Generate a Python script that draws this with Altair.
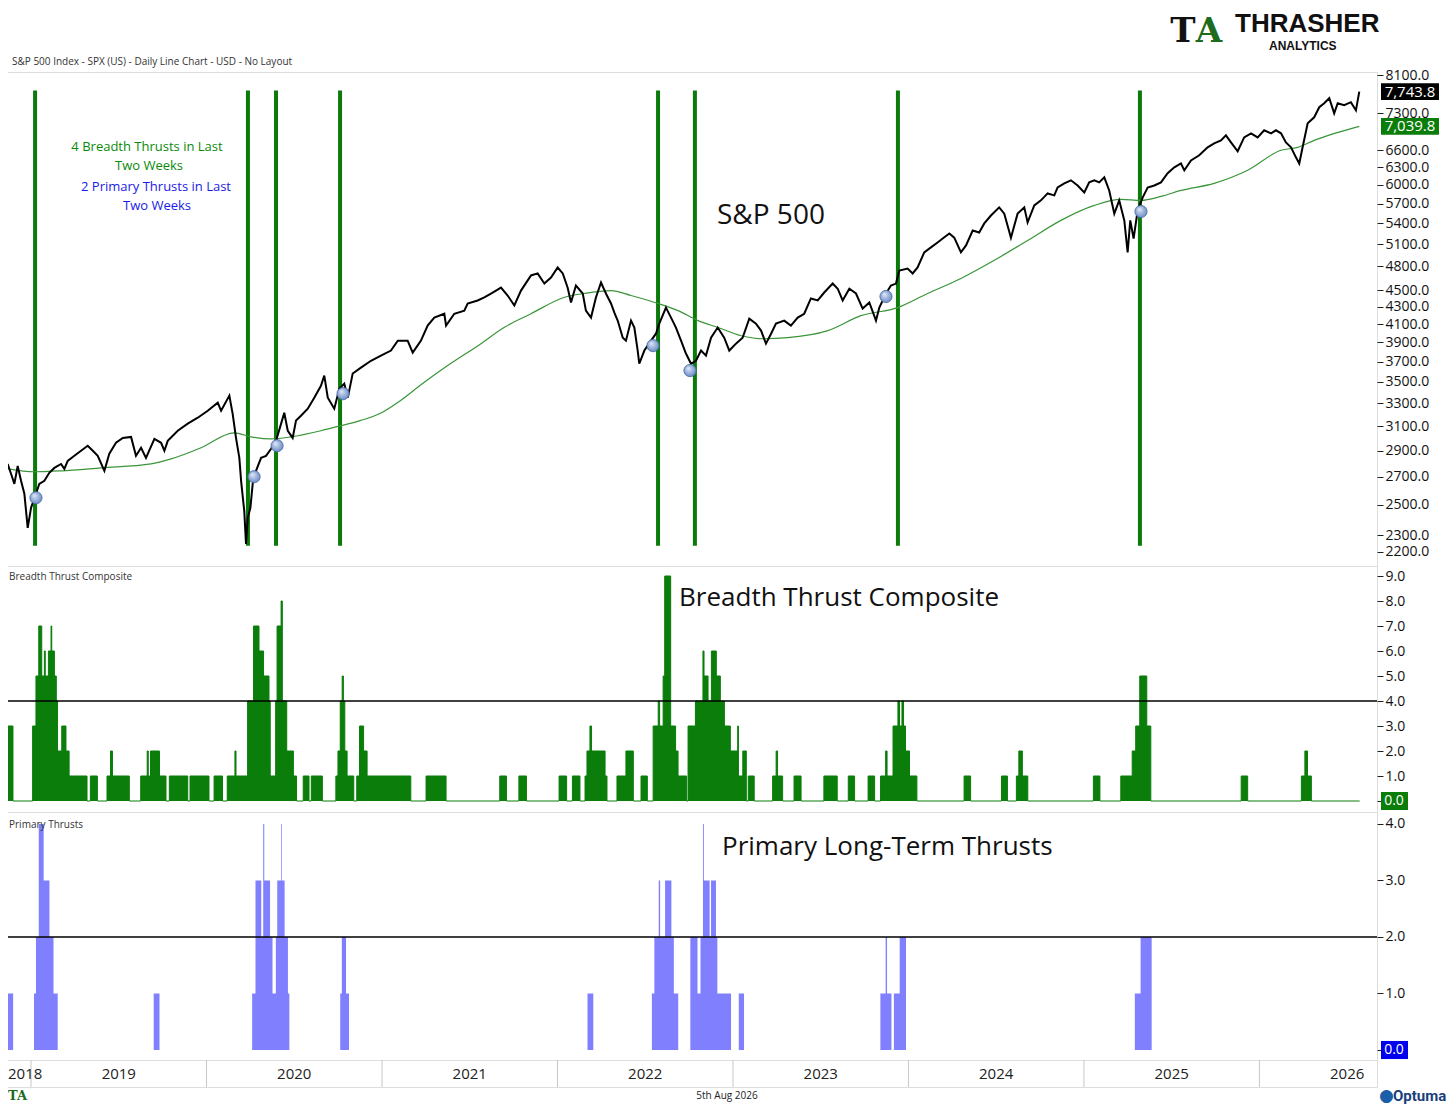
import altair as alt
import pandas as pd

# ---------------- data ----------------
SPX_YEAR = [
    2018.867, 2018.886, 2018.905, 2018.924, 2018.943, 2018.962, 2018.981, 2019.000, 2019.028, 2019.047,
    2019.076, 2019.104, 2019.133, 2019.171, 2019.190, 2019.209, 2019.247, 2019.285, 2019.323, 2019.352,
    2019.380, 2019.418, 2019.446, 2019.484, 2019.523, 2019.570, 2019.598, 2019.627, 2019.655, 2019.703,
    2019.741, 2019.760, 2019.779, 2019.836, 2019.893, 2019.950, 2020.007, 2020.064, 2020.083, 2020.130,
    2020.149, 2020.168, 2020.187, 2020.197, 2020.215, 2020.225, 2020.235, 2020.250, 2020.263, 2020.282,
    2020.311, 2020.339, 2020.368, 2020.396, 2020.425, 2020.443, 2020.463, 2020.491, 2020.510, 2020.538,
    2020.577, 2020.614, 2020.652, 2020.671, 2020.691, 2020.728, 2020.757, 2020.785, 2020.805, 2020.833,
    2020.880, 2020.937, 2020.994, 2021.051, 2021.090, 2021.146, 2021.175, 2021.222, 2021.260, 2021.298,
    2021.355, 2021.365, 2021.412, 2021.469, 2021.488, 2021.545, 2021.583, 2021.621, 2021.678, 2021.716,
    2021.754, 2021.792, 2021.849, 2021.887, 2021.925, 2021.963, 2022.001, 2022.030, 2022.058, 2022.077,
    2022.105, 2022.144, 2022.162, 2022.191, 2022.219, 2022.248, 2022.276, 2022.305, 2022.324, 2022.343,
    2022.372, 2022.390, 2022.419, 2022.438, 2022.457, 2022.466, 2022.495, 2022.533, 2022.561, 2022.580,
    2022.618, 2022.647, 2022.675, 2022.704, 2022.732, 2022.761, 2022.789, 2022.818, 2022.846, 2022.875,
    2022.913, 2022.950, 2022.979, 2023.017, 2023.055, 2023.093, 2023.131, 2023.160, 2023.188, 2023.217,
    2023.245, 2023.292, 2023.330, 2023.369, 2023.406, 2023.444, 2023.483, 2023.520, 2023.568, 2023.597,
    2023.625, 2023.663, 2023.701, 2023.739, 2023.777, 2023.815, 2023.834, 2023.872, 2023.900, 2023.929,
    2023.948, 2023.995, 2024.024, 2024.052, 2024.090, 2024.128, 2024.166, 2024.195, 2024.233, 2024.261,
    2024.299, 2024.328, 2024.366, 2024.403, 2024.432, 2024.470, 2024.517, 2024.546, 2024.584, 2024.622,
    2024.660, 2024.679, 2024.717, 2024.755, 2024.793, 2024.831, 2024.850, 2024.888, 2024.926, 2024.964,
    2025.002, 2025.030, 2025.059, 2025.087, 2025.116, 2025.144, 2025.173, 2025.201, 2025.230, 2025.249,
    2025.264, 2025.283, 2025.306, 2025.335, 2025.363, 2025.401, 2025.439, 2025.477, 2025.515, 2025.553,
    2025.572, 2025.610, 2025.657, 2025.705, 2025.742, 2025.781, 2025.809, 2025.838, 2025.876, 2025.913,
    2025.952, 2025.990, 2026.027, 2026.066, 2026.094, 2026.123, 2026.151, 2026.180, 2026.208, 2026.227,
    2026.246, 2026.275, 2026.312, 2026.341, 2026.369, 2026.398, 2026.426, 2026.446, 2026.483, 2026.521,
    2026.550, 2026.569,
]
SPX_CLOSE = [
    2796, 2722, 2648, 2781, 2670, 2577, 2348, 2480, 2577, 2648,
    2670, 2729, 2766, 2796, 2759, 2820, 2859, 2899, 2939, 2899,
    2859, 2744, 2875, 2963, 3002, 3011, 2859, 2923, 2843, 2994,
    2963, 2899, 2978, 3062, 3122, 3173, 3234, 3307, 3234, 3371,
    3207, 3003, 2843, 2670, 2459, 2247, 2413, 2480, 2648, 2744,
    2843, 2859, 2915, 2978, 3122, 3216, 3062, 3003, 3148, 3190,
    3252, 3352, 3463, 3561, 3352, 3252, 3434, 3483, 3352, 3581,
    3639, 3708, 3761, 3813, 3918, 3918, 3792, 3918, 4083, 4173,
    4217, 4083, 4217, 4253, 4337, 4373, 4409, 4457, 4529, 4433,
    4313, 4493, 4683, 4709, 4580, 4657, 4786, 4709, 4529, 4349,
    4555, 4457, 4253, 4173, 4409, 4593, 4457, 4337, 4229, 4139,
    3949, 3918, 4139, 4061, 3813, 3678, 3813, 3918, 3993, 4105,
    4289, 4173, 4061, 3918, 3782, 3678, 3708, 3813, 3761, 3949,
    4061, 3949, 3813, 3886, 3949, 4161, 4105, 4027, 3886, 3993,
    4105, 4139, 4083, 4173, 4217, 4397, 4373, 4469, 4580, 4516,
    4373, 4516, 4457, 4277, 4349, 4139, 4289, 4457, 4555, 4580,
    4747, 4773, 4709, 4786, 4988, 5056, 5125, 5180, 5252, 5193,
    4988, 5084, 5296, 5267, 5399, 5517, 5641, 5546, 5193, 5546,
    5641, 5414, 5672, 5751, 5861, 5830, 5957, 6024, 6075, 5990,
    5877, 6041, 6075, 6041, 6125, 5909, 5546, 5751, 5444, 4988,
    5444, 5180, 5593, 5798, 5957, 5990, 6041, 6193, 6294, 6361,
    6243, 6414, 6505, 6649, 6721, 6776, 6870, 6739, 6577, 6831,
    6908, 6831, 6966, 6908, 6966, 6908, 6739, 6649, 6469, 6361,
    6649, 7102, 7218, 7419, 7502, 7605, 7295, 7502, 7460, 7523,
    7357, 7743.8,
]
MA200_YEAR = [
    2018.867, 2019.017, 2019.171, 2019.399, 2019.684, 2019.798, 2019.969, 2020.157, 2020.254, 2020.368,
    2020.481, 2020.652, 2020.766, 2020.880, 2020.994, 2021.100, 2021.220, 2021.374, 2021.564, 2021.695,
    2021.849, 2022.037, 2022.151, 2022.305, 2022.419, 2022.573, 2022.687, 2022.801, 2022.915, 2023.046,
    2023.177, 2023.444, 2023.540, 2023.729, 2023.939, 2024.109, 2024.299, 2024.487, 2024.679, 2024.869,
    2025.059, 2025.211, 2025.325, 2025.439, 2025.553, 2025.742, 2025.933, 2026.123, 2026.218, 2026.312,
    2026.569,
]
MA200 = [
    2759, 2737, 2744, 2766, 2796, 2835, 2923, 3045, 3011, 2994,
    3011, 3062, 3105, 3150, 3215, 3320, 3470, 3660, 3886, 4061,
    4217, 4409, 4457, 4493, 4433, 4337, 4253, 4139, 4061, 3971,
    3938, 3982, 4027, 4195, 4289, 4457, 4645, 4878, 5152, 5444,
    5672, 5767, 5751, 5814, 5909, 6024, 6243, 6595, 6649, 6776,
    7039.8,
]
SIGNAL_YEAR = [2019.028, 2020.271, 2020.402, 2020.778, 2022.544, 2022.755, 2023.872, 2025.325]
SIGNAL_PRICE = [2549, 2700, 2939, 3389, 3865, 3610, 4421, 5578]
THRUST_YEAR = [2019.023, 2020.236, 2020.396, 2020.761, 2022.573, 2022.783, 2023.940, 2025.319]
THRUST_TOP = 7767
THRUST_BOTTOM = 2235

BREADTH_YEAR = [
    2018.858, 2018.897, 2019.009, 2019.028, 2019.044, 2019.061, 2019.076, 2019.081, 2019.099, 2019.114,
    2019.118, 2019.133, 2019.144, 2019.151, 2019.175, 2019.199, 2019.217, 2019.319, 2019.338, 2019.378,
    2019.433, 2019.453, 2019.464, 2019.560, 2019.625, 2019.662, 2019.668, 2019.681, 2019.732, 2019.769,
    2019.788, 2019.893, 2019.906, 2020.014, 2020.043, 2020.091, 2020.118, 2020.162, 2020.168, 2020.234,
    2020.268, 2020.299, 2020.325, 2020.356, 2020.363, 2020.394, 2020.402, 2020.425, 2020.432, 2020.457,
    2020.495, 2020.513, 2020.551, 2020.584, 2020.597, 2020.660, 2020.737, 2020.749, 2020.762, 2020.773,
    2020.780, 2020.788, 2020.801, 2020.839, 2020.856, 2020.872, 2020.895, 2020.915, 2021.164, 2021.251,
    2021.365, 2021.671, 2021.709, 2021.780, 2021.823, 2022.009, 2022.052, 2022.085, 2022.128, 2022.157,
    2022.168, 2022.185, 2022.194, 2022.271, 2022.282, 2022.339, 2022.390, 2022.432, 2022.476, 2022.512,
    2022.545, 2022.574, 2022.582, 2022.602, 2022.611, 2022.645, 2022.673, 2022.687, 2022.736, 2022.744,
    2022.786, 2022.829, 2022.835, 2022.858, 2022.877, 2022.905, 2022.928, 2022.951, 2022.985, 2023.027,
    2023.031, 2023.056, 2023.076, 2023.087, 2023.121, 2023.226, 2023.246, 2023.254, 2023.283, 2023.348,
    2023.388, 2023.518, 2023.594, 2023.657, 2023.693, 2023.770, 2023.807, 2023.841, 2023.870, 2023.878,
    2023.912, 2023.940, 2023.949, 2023.963, 2023.972, 2023.983, 2024.006, 2024.048, 2024.317, 2024.354,
    2024.530, 2024.564, 2024.615, 2024.629, 2024.649, 2024.680, 2025.054, 2025.091, 2025.210, 2025.275,
    2025.295, 2025.318, 2025.358, 2025.381, 2025.896, 2025.933, 2026.239, 2026.259, 2026.274, 2026.296,
    2026.571,
]
BREADTH = [
    3, 0, 3, 5, 7, 5, 6, 5, 6, 7,
    6, 5, 4, 2, 3, 2, 1, 0, 1, 0,
    1, 2, 1, 0, 1, 2, 1, 2, 1, 0,
    1, 0, 1, 0, 1, 0, 1, 2, 1, 4,
    7, 6, 5, 4, 1, 4, 7, 8, 4, 2,
    1, 0, 1, 0, 1, 0, 1, 2, 4, 5,
    4, 2, 1, 0, 1, 3, 2, 1, 0, 1,
    0, 1, 0, 1, 0, 1, 0, 1, 0, 1,
    2, 3, 2, 1, 0, 1, 2, 0, 1, 0,
    3, 4, 3, 5, 9, 3, 2, 1, 0, 3,
    4, 6, 5, 4, 6, 5, 4, 3, 2, 3,
    1, 2, 0, 1, 0, 1, 2, 1, 0, 1,
    0, 1, 0, 1, 0, 1, 0, 1, 2, 1,
    3, 4, 3, 4, 3, 2, 1, 0, 1, 0,
    1, 0, 1, 2, 1, 0, 1, 0, 1, 2,
    3, 5, 3, 0, 1, 0, 1, 2, 1, 0,
    0,
]
PRIMARY_YEAR = [
    2018.856, 2018.898, 2019.017, 2019.028, 2019.044, 2019.072, 2019.105, 2019.128, 2019.152, 2019.699,
    2019.732, 2020.260, 2020.279, 2020.312, 2020.323, 2020.329, 2020.362, 2020.376, 2020.395, 2020.403,
    2020.426, 2020.430, 2020.445, 2020.464, 2020.472, 2020.762, 2020.771, 2020.795, 2020.812, 2022.171,
    2022.204, 2022.538, 2022.552, 2022.577, 2022.585, 2022.613, 2022.649, 2022.663, 2022.688, 2022.757,
    2022.798, 2022.815, 2022.829, 2022.834, 2022.867, 2022.875, 2022.903, 2022.911, 2022.989, 2023.033,
    2023.063, 2023.840, 2023.870, 2023.878, 2023.903, 2023.917, 2023.950, 2023.986, 2025.290, 2025.323,
    2025.386, 2026.571,
]
PRIMARY = [
    1, 0, 1, 2, 4, 3, 2, 1, 0, 1,
    0, 1, 3, 2, 4, 3, 2, 1, 2, 3,
    4, 3, 2, 1, 0, 1, 2, 1, 0, 1,
    0, 1, 2, 3, 2, 3, 2, 1, 0, 2,
    1, 2, 4, 3, 2, 3, 2, 1, 0, 1,
    0, 1, 2, 1, 0, 1, 2, 0, 1, 2,
    0, 0,
]
PRICE_TICKS = [2200, 2300, 2500, 2700, 2900, 3100, 3300, 3500, 3700, 3900, 4100, 4300, 4500,
               4800, 5100, 5400, 5700, 6000, 6300, 6600, 7300, 8100]
BREADTH_TICKS = [0, 1, 2, 3, 4, 5, 6, 7, 8, 9]
PRIMARY_TICKS = [0, 1, 2, 3, 4]
BREADTH_LEVEL = 4
PRIMARY_LEVEL = 2
LAST_CLOSE = 7743.8
LAST_MA = 7039.8
LAST_BREADTH = 0.0
LAST_PRIMARY = 0.0
YEAR_STARTS = [2019, 2020, 2021, 2022, 2023, 2024, 2025, 2026]
YEAR_LABELS = ["2019", "2020", "2021", "2022", "2023", "2024", "2025", "2026"]
YEAR_LABEL_POS = [2019.5, 2020.5, 2021.5, 2022.5, 2023.5, 2024.5, 2025.5, 2026.5]
FIRST_YEAR_LABEL = "2018"

# ---------------- styling ----------------
W = 1370
X_DOMAIN = [2018.863, 2026.67]
RULE_GREEN = "#0b7a0b"
AREA_GREEN = "#0a7d0a"
MA_GREEN = "#3a953a"
BLUE_AREA = "#8080ff"
FONT = "Open Sans"
ONE = pd.DataFrame({"k": [0]})

X_SCALE = alt.Scale(domain=X_DOMAIN, nice=False, zero=False)


def x_enc(field):
    return alt.X(f"{field}:Q", scale=X_SCALE, axis=None)


def right_axis(values):
    return alt.Axis(orient="right", values=values, format=".1f", title=None, grid=False,
                    domain=False, tickSize=6, tickColor="#222", labelFontSize=14, labelFont=FONT,
                    labelColor="#111", labelPadding=2, labelOverlap=False, labelFlush=False)


def label(text, x, y, size, color="#111", align="left", weight="normal", font=FONT):
    return alt.Chart(ONE).mark_text(text=text, fontSize=size, color=color, align=align,
                                    baseline="middle", fontWeight=weight, font=font).encode(
        x=alt.value(x), y=alt.value(y))


# ---------------- header ----------------
header = alt.layer(
    label("S&P 500 Index - SPX (US) - Daily Line Chart - USD - No Layout", 5, 54, 10, "#333"),
    label("T", 1176, 24, 34, "#111", "center", "bold", "DejaVu Serif"),
    label("A", 1202, 24, 34, "#1d6b1d", "center", "bold", "DejaVu Serif"),
    label("THRASHER", 1228, 16, 26, "#111", "left", "bold", "Liberation Sans"),
    label("ANALYTICS", 1262, 38, 12, "#111", "left", "bold", "Liberation Sans"),
).properties(width=W, height=64, view=alt.ViewBackground(stroke="transparent"))

# ---------------- price panel ----------------
Y_PRICE = alt.Scale(type="log", domain=[2115, 8170], nice=False)
p_axis = right_axis(PRICE_TICKS)

price_df = pd.DataFrame({"year": SPX_YEAR, "close": SPX_CLOSE})
ma_df = pd.DataFrame({"year": MA200_YEAR, "ma": MA200})
sig_df = pd.DataFrame({"year": SIGNAL_YEAR, "price": SIGNAL_PRICE})
thrust_df = pd.DataFrame({"year": THRUST_YEAR, "top": [THRUST_TOP] * len(THRUST_YEAR),
                          "bottom": [THRUST_BOTTOM] * len(THRUST_YEAR)})
box_df = pd.DataFrame({"v": [LAST_CLOSE, LAST_MA], "fill": ["#000000", AREA_GREEN]})

rules = alt.Chart(thrust_df).mark_rule(color=RULE_GREEN, strokeWidth=4).encode(
    x=x_enc("year"), y=alt.Y("top:Q", scale=Y_PRICE, axis=p_axis), y2="bottom:Q")
ma_line = alt.Chart(ma_df).mark_line(color=MA_GREEN, strokeWidth=1.2, interpolate="monotone",
                                     clip=True).encode(
    x=x_enc("year"), y=alt.Y("ma:Q", scale=Y_PRICE, axis=p_axis))
px_line = alt.Chart(price_df).mark_line(color="#000000", strokeWidth=2, clip=True).encode(
    x=x_enc("year"), y=alt.Y("close:Q", scale=Y_PRICE, axis=p_axis))
grad = alt.RadialGradient(gradient="radial",
                          stops=[alt.GradientStop(offset=0, color="#e4ecf9"),
                                 alt.GradientStop(offset=1, color="#5a7ebe")],
                          x1=0.35, y1=0.3, r1=0, x2=0.5, y2=0.5, r2=0.6)
pts = alt.Chart(sig_df).mark_circle(size=150, fill=grad, opacity=1, stroke="#4a6aa6",
                                    strokeWidth=0.8).encode(
    x=x_enc("year"), y=alt.Y("price:Q", scale=Y_PRICE, axis=p_axis))
boxes = alt.Chart(box_df).transform_calculate(
    hi="datum.v * 1.023", lo="datum.v / 1.023").mark_rect().encode(
    x=alt.value(1374), x2=alt.value(1432),
    y=alt.Y("hi:Q", scale=Y_PRICE, axis=p_axis), y2="lo:Q",
    color=alt.Color("fill:N", scale=None))
box_text = alt.Chart(box_df).mark_text(color="white", fontSize=15, font=FONT,
                                       align="center", baseline="middle").encode(
    x=alt.value(1403), y=alt.Y("v:Q", scale=Y_PRICE, axis=p_axis),
    text=alt.Text("v:Q", format=",.1f"))

top = alt.layer(
    rules, ma_line, px_line, pts, boxes, box_text,
    label("4 Breadth Thrusts in Last", 140, 75, 13, "#0a8a0a", "center"),
    label("Two Weeks", 142, 94, 13, "#0a8a0a", "center"),
    label("2 Primary Thrusts in Last", 149, 115, 13, "#1a1ae6", "center"),
    label("Two Weeks", 150, 134, 13, "#1a1ae6", "center"),
    label("S&P 500", 710, 144, 28, "#111"),
).properties(width=W, height=494)

# ---------------- breadth panel ----------------
Y_B = alt.Scale(domain=[-0.44, 9.4], nice=False, zero=False)
b_axis = right_axis(BREADTH_TICKS)
b_df = pd.DataFrame({"year": BREADTH_YEAR, "value": BREADTH})
b_box = pd.DataFrame({"v": [LAST_BREADTH]})

b_area = alt.Chart(b_df).mark_area(interpolate="step-after", color=AREA_GREEN, opacity=1,
                                   clip=True).encode(
    x=x_enc("year"), y=alt.Y("value:Q", scale=Y_B, axis=b_axis))
b_line = alt.Chart(b_df).mark_line(interpolate="step-after", color=AREA_GREEN, strokeWidth=1,
                                   clip=True).encode(
    x=x_enc("year"), y=alt.Y("value:Q", scale=Y_B, axis=b_axis))
b_rule = alt.Chart(ONE).mark_rule(color="#000000", strokeWidth=1.5).encode(
    x=alt.value(0), x2=alt.value(W), y=alt.Y(datum=BREADTH_LEVEL, scale=Y_B, axis=b_axis))
b_boxr = alt.Chart(b_box).transform_calculate(hi="datum.v + 0.36", lo="datum.v - 0.36").mark_rect(
    color=AREA_GREEN).encode(x=alt.value(1374), x2=alt.value(1401),
                             y=alt.Y("hi:Q", scale=Y_B, axis=b_axis), y2="lo:Q")
b_boxt = alt.Chart(b_box).mark_text(color="white", fontSize=14, font=FONT, align="center",
                                    baseline="middle").encode(
    x=alt.value(1387), y=alt.Y("v:Q", scale=Y_B, axis=b_axis), text=alt.Text("v:Q", format=".1f"))

middle = alt.layer(
    b_area, b_line, b_rule, b_boxr, b_boxt,
    label("Breadth Thrust Composite", 2, 11, 10, "#333"),
    label("Breadth Thrust Composite", 672, 32, 26, "#111"),
).properties(width=W, height=246)

# ---------------- primary thrust panel ----------------
Y_P = alt.Scale(domain=[-0.177, 4.212], nice=False, zero=False)
pr_axis = right_axis(PRIMARY_TICKS)
p_df = pd.DataFrame({"year": PRIMARY_YEAR, "value": PRIMARY})
p_box = pd.DataFrame({"v": [LAST_PRIMARY]})

p_area = alt.Chart(p_df).mark_area(interpolate="step-after", color=BLUE_AREA, opacity=1,
                                   clip=True).encode(
    x=x_enc("year"), y=alt.Y("value:Q", scale=Y_P, axis=pr_axis))
p_rule = alt.Chart(ONE).mark_rule(color="#000000", strokeWidth=1.5).encode(
    x=alt.value(0), x2=alt.value(W), y=alt.Y(datum=PRIMARY_LEVEL, scale=Y_P, axis=pr_axis))
p_boxr = alt.Chart(p_box).transform_calculate(hi="datum.v + 0.16", lo="datum.v - 0.16").mark_rect(
    color="#0000ee").encode(x=alt.value(1374), x2=alt.value(1401),
                            y=alt.Y("hi:Q", scale=Y_P, axis=pr_axis), y2="lo:Q")
p_boxt = alt.Chart(p_box).mark_text(color="white", fontSize=14, font=FONT, align="center",
                                    baseline="middle").encode(
    x=alt.value(1387), y=alt.Y("v:Q", scale=Y_P, axis=pr_axis), text=alt.Text("v:Q", format=".1f"))

bottom = alt.layer(
    p_area, p_rule, p_boxr, p_boxt,
    label("Primary Thrusts", 2, 13, 10, "#333"),
    label("Primary Long-Term Thrusts", 715, 35, 26, "#111"),
).properties(width=W, height=248)

# ---------------- year strip ----------------
strip_rules = alt.Chart(pd.DataFrame({"year": YEAR_STARTS})).mark_rule(
    color="#c8c8c8", strokeWidth=1).encode(x=x_enc("year"), y=alt.value(0), y2=alt.value(27))
strip_text = alt.Chart(pd.DataFrame({"pos": YEAR_LABEL_POS, "label": YEAR_LABELS})).mark_text(
    fontSize=15, font=FONT, color="#222", baseline="middle").encode(
    x=x_enc("pos"), y=alt.value(14), text="label:N")
strip = alt.layer(
    strip_rules, strip_text,
    label(FIRST_YEAR_LABEL, 1, 14, 15, "#222"),
).properties(width=W, height=27)

# ---------------- footer ----------------
footer = alt.layer(
    label("TA", 1, 9, 13, "#1d6b1d", "left", "bold", "DejaVu Serif"),
    label("5th Aug 2026", 720, 9, 10, "#222", "center"),
    label("●", 1372, 9, 17, "#1b5fa8", "left", "normal", "DejaVu Sans"),
    label("Optuma", 1386, 9, 15, "#1b3f7a", "left", "bold", "Roboto"),
).properties(width=W, height=12, view=alt.ViewBackground(stroke="transparent"))

chart = alt.vconcat(header, top, middle, bottom, strip, footer, spacing=0, bounds="flush").properties(
    padding={"left": -3, "top": -1, "right": 0, "bottom": 0},
    background="white",
).configure_view(stroke="#c9c9c9", strokeWidth=1).configure(font=FONT)

chart.save("out.html", embed_options={"renderer": "svg", "actions": False})
